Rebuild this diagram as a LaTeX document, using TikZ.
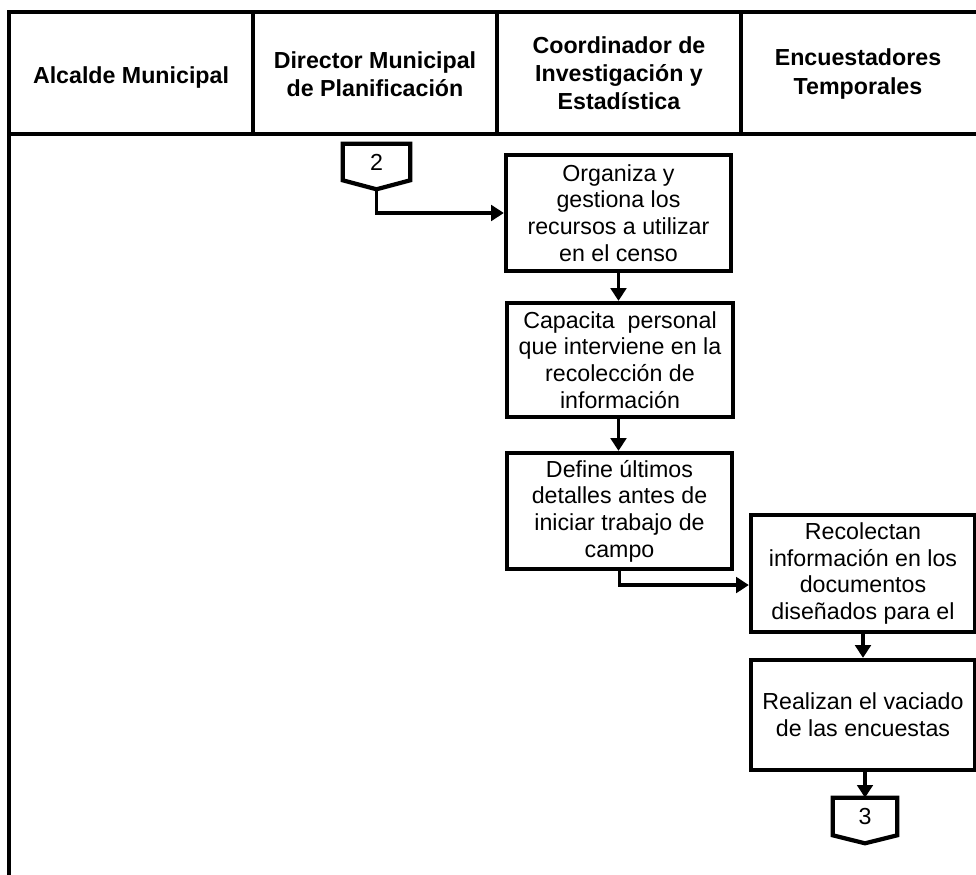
\documentclass[tikz,border=0pt]{standalone}
\usepackage{fontspec}
\setmainfont{Liberation Sans}
\usetikzlibrary{arrows.meta}

\tikzset{
  lane/.style={line width=2.3pt},
  head/.style={align=center, font=\fontsize{16.5}{20}\selectfont\bfseries},
  task/.style={draw, line width=3pt, align=center, inner sep=0pt,
    font=\fontsize{16.5}{19}\selectfont},
  offpage/.style={inner sep=0pt, font=\fontsize{16.5}{19}\selectfont},
  flow/.style={line width=2.6pt, -{Triangle[length=9pt,width=11pt]}},
}

\begin{document}
\begin{tikzpicture}[x=0.025cm, y=-0.025cm]
    \useasboundingbox (0,0) rectangle (976,875);
    % frame and lane headers
    \draw[lane] (976,12) -- (9,12) -- (9,875);
    \draw[lane] (9,134) -- (976,134);
    \foreach \x in {253,497,741}
        \draw[lane] (\x,12) -- (\x,134);
    \node[head] (alcalde) at (131,77) {Alcalde Municipal};
    \node[head] (director) at (375,74) {Director Municipal\\de Planificación};
    \node[head] (coord) at (619,73) {Coordinador de\\Investigación y\\Estadística};
    \node[head] (encuest) at (858,74) {Encuestadores\\Temporales};

    % off-page connector 2
    \node[offpage, minimum width=1.675cm, minimum height=0.9cm] (c2) at (376.5,162) {2};
    \draw[line width=3pt] (c2.north west) -- (c2.north east) -- (c2.south east)
        -- ([yshift=-6.4pt]c2.south) -- (c2.south west) -- cycle;
    \coordinate (c2tip) at ([yshift=-6.4pt]c2.south);

    % activities
    \node[task, minimum width=5.625cm, minimum height=2.9cm] (recursos) at (618.5,213)
        {Organiza y\\gestiona los\\recursos a utilizar\\en el censo};
    \node[task, minimum width=5.65cm, minimum height=2.85cm] (capacita) at (620,360)
        {Capacita\ \ personal\\que interviene en la\\recolección de\\información};
    \node[task, minimum width=5.625cm, minimum height=2.9cm] (detalles) at (619.5,511)
        {Define últimos\\detalles antes de\\iniciar trabajo de\\campo};
    \node[task, minimum width=5.6cm, minimum height=2.925cm] (recolectan) at (863,573.5)
        {Recolectan\\información en los\\documentos\\diseñados para el};
    \node[task, minimum width=5.6cm, minimum height=2.75cm] (vaciado) at (863,715)
        {Realizan el vaciado\\de las encuestas};

    % off-page connector 3
    \node[offpage, minimum width=1.6cm, minimum height=0.925cm] (c3) at (865,816.5) {3};
    \draw[line width=3pt] (c3.north west) -- (c3.north east) -- (c3.south east)
        -- ([yshift=-5.7pt]c3.south) -- (c3.south west) -- cycle;

    % flow
    \draw[flow] (c2tip) |- (recursos.west);
    \draw[flow] (recursos.south) -- (recursos.south |- capacita.north);
    \draw[flow] (capacita.south -| recursos.south) -- (recursos.south |- detalles.north);
    \draw[flow] (detalles.south) |- ([yshift=-8.2pt]recolectan.west);
    \draw[flow] (recolectan.south) -- (vaciado.north);
    \draw[flow] (vaciado.south -| c3.north) -- (c3.north);
\end{tikzpicture}
\end{document}
